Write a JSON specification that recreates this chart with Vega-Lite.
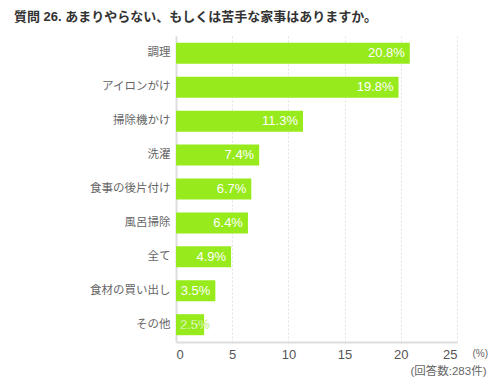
{
  "$schema": "https://vega.github.io/schema/vega-lite/v6.json",
  "autosize": {"type": "none"},
  "padding": {"left": 176, "top": 36, "right": 43, "bottom": 48},
  "width": 281,
  "height": 306,
  "background": "white",
  "title": {
    "text": "質問 26. あまりやらない、もしくは苦手な家事はありますか。",
    "anchor": "start",
    "frame": "group",
    "dx": -162,
    "offset": 12,
    "font": "Liberation Sans, Noto Sans CJK JP",
    "fontSize": 13,
    "fontWeight": "bold",
    "color": "#333333"
  },
  "config": {
    "view": {"stroke": null},
    "font": "Liberation Sans, Noto Sans CJK JP"
  },
  "data": {
    "values": [
      {"item": "調理", "value": 20.8},
      {"item": "アイロンがけ", "value": 19.8},
      {"item": "掃除機かけ", "value": 11.3},
      {"item": "洗濯", "value": 7.4},
      {"item": "食事の後片付け", "value": 6.7},
      {"item": "風呂掃除", "value": 6.4},
      {"item": "全て", "value": 4.9},
      {"item": "食材の買い出し", "value": 3.5},
      {"item": "その他", "value": 2.5}
    ]
  },
  "encoding": {
    "y": {
      "field": "item",
      "type": "nominal",
      "sort": null,
      "scale": {"paddingInner": 0.38, "paddingOuter": 0.2},
      "axis": {
        "title": null,
        "ticks": false,
        "domainColor": "#dddddd",
        "domainWidth": 2,
        "labelFontSize": 11.5,
        "labelColor": "#666666",
        "labelPadding": 6
      }
    }
  },
  "layer": [
    {
      "mark": {"type": "bar", "color": "#97ea1c"},
      "encoding": {
        "x": {
          "field": "value",
          "type": "quantitative",
          "scale": {"domain": [0, 25], "nice": false},
          "axis": {
            "orient": "bottom",
            "values": [0, 5, 10, 15, 20, 25],
            "grid": true,
            "gridColor": "#e2e2e2",
            "gridDash": [2, 2],
            "ticks": false,
            "domainColor": "#dddddd",
            "domainWidth": 2,
            "labelFontSize": 13,
            "labelColor": "#555555",
            "labelPadding": 6,
            "title": "(%)",
            "titleFontSize": 10,
            "titleFontWeight": "normal",
            "titleColor": "#666666",
            "titleAlign": "left",
            "titleBaseline": "middle",
            "titleX": 296,
            "titleY": 11
          }
        }
      }
    },
    {
      "transform": [
        {"filter": "datum.value >= 3"},
        {"calculate": "format(datum.value, '.1f') + '%'", "as": "label"}
      ],
      "mark": {
        "type": "text",
        "align": "right",
        "baseline": "middle",
        "dx": -5,
        "fontSize": 13,
        "color": "white"
      },
      "encoding": {
        "x": {"field": "value", "type": "quantitative", "axis": null},
        "text": {"field": "label", "type": "nominal"}
      }
    },
    {
      "transform": [
        {"filter": "datum.value < 3"},
        {"calculate": "format(datum.value, '.1f') + '%'", "as": "label"}
      ],
      "mark": {
        "type": "text",
        "align": "left",
        "baseline": "middle",
        "dx": 4,
        "fontSize": 13,
        "color": "white",
        "stroke": "#97ea1c",
        "strokeWidth": 0.3
      },
      "encoding": {
        "x": {"datum": 0, "type": "quantitative", "axis": null},
        "text": {"field": "label", "type": "nominal"}
      }
    },
    {
      "mark": {"type": "rule", "opacity": 0},
      "encoding": {
        "x": {
          "field": "value",
          "type": "quantitative",
          "axis": {
            "orient": "bottom",
            "labels": false,
            "ticks": false,
            "domain": false,
            "grid": false,
            "title": "(回答数:283件)",
            "titleFontSize": 11.5,
            "titleFontWeight": "normal",
            "titleColor": "#666666",
            "titleAlign": "right",
            "titleBaseline": "middle",
            "titleX": 310,
            "titleY": 29
          }
        }
      }
    }
  ],
  "resolve": {"axis": {"x": "independent"}}
}
